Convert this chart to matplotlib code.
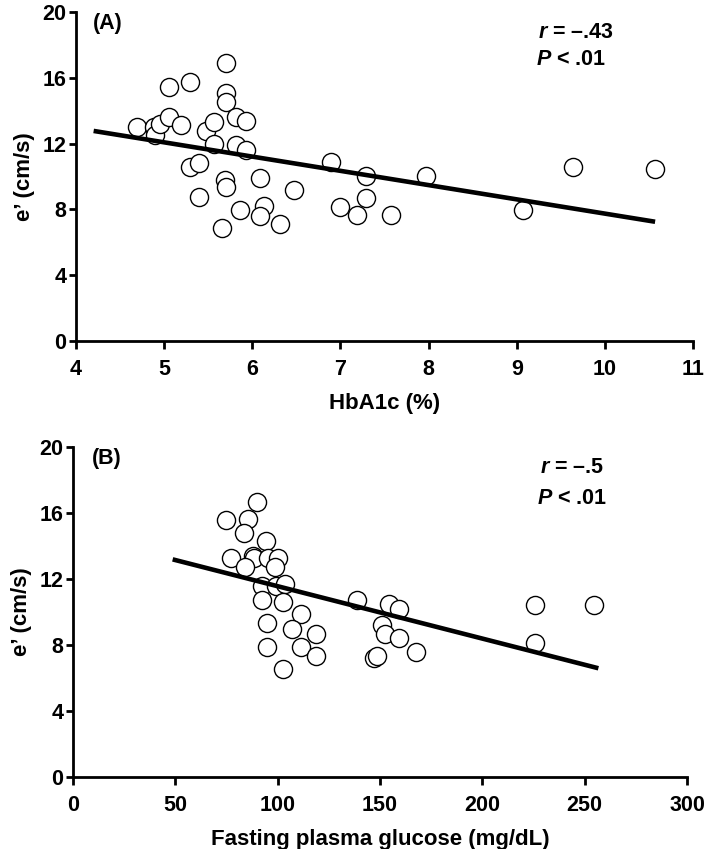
import matplotlib
matplotlib.use("Agg")
import matplotlib.pyplot as plt

plt.rcParams['font.family'] = ['Liberation Sans', 'DejaVu Sans']
plt.rcParams['font.weight'] = 'bold'
plt.rcParams['mathtext.fontset'] = 'custom'
plt.rcParams['mathtext.it'] = 'Liberation Sans:italic:bold'
plt.rcParams['mathtext.rm'] = 'Liberation Sans:bold'

# Panel A: HbA1c (%) vs e' (cm/s)
hba1c = [4.69, 4.89, 4.90, 4.95, 5.05, 5.05, 5.19, 5.29, 5.29, 5.39,
         5.39, 5.48, 5.57, 5.57, 5.70, 5.70, 5.70, 5.69, 5.70, 5.66,
         5.81, 5.93, 5.81, 5.93, 5.86, 6.09, 6.13, 6.09, 6.32, 6.47,
         6.89, 7.29, 6.99, 7.29, 7.19, 7.57, 7.97, 9.07, 9.64, 10.57]
e_a = [13.03, 13.03, 12.52, 13.19, 15.42, 13.60, 13.13, 15.76, 10.60, 10.84,
       8.74, 12.79, 13.33, 11.98, 16.88, 15.10, 14.55, 9.79, 9.34, 6.85,
       13.60, 13.39, 11.91, 11.61, 7.96, 9.89, 8.21, 7.60, 7.11, 9.18,
       10.90, 10.03, 8.16, 8.67, 7.66, 7.66, 10.05, 7.96, 10.60, 10.44]
fit_a_x = [4.2, 10.57]
fit_a_y = [12.77, 7.25]

# Panel B: Fasting plasma glucose (mg/dL) vs e' (cm/s)
fpg = [89.8, 74.8, 85.4, 83.7, 94.2, 77.1, 88.1, 88.4, 95.4, 100.3,
       84.0, 98.7, 92.2, 99.2, 103.6, 92.2, 102.8, 94.9, 111.2, 107.0,
       118.7, 94.9, 111.2, 118.7, 102.8,
       225.7, 225.7, 138.6, 154.6, 159.3, 150.8, 152.4, 159.3, 167.6, 147.1,
       148.4, 254.6]
e_b = [16.68, 15.58, 15.62, 14.80, 14.30, 13.25, 13.40, 13.25, 13.25, 13.30,
       12.70, 12.70, 11.58, 11.58, 11.70, 10.73, 10.62, 9.35, 9.88, 8.97,
       8.67, 7.86, 7.86, 7.35, 6.53,
       10.42, 8.14, 10.73, 10.46, 10.18, 9.21, 8.65, 8.40, 7.60, 7.23,
       7.35, 10.42]
fit_b_x = [48.7, 256.7]
fit_b_y = [13.19, 6.59]

yticks = [0, 4, 8, 12, 16, 20]
xticks_a = [4, 5, 6, 7, 8, 9, 10, 11]
xticks_b = [0, 50, 100, 150, 200, 250, 300]

FS = 15.5

fig = plt.figure(figsize=(7.09, 8.49), dpi=100)
axA = fig.add_axes([76/709, 1-341/849, (693-76)/709, (341-12)/849])
axB = fig.add_axes([73/709, 1-777/849, (687-73)/709, (777-447)/849])


def style(ax, xlim, xticks, xlabel):
    ax.set_xlim(*xlim)
    ax.set_ylim(0, 20)
    ax.set_xticks(xticks)
    ax.set_yticks(yticks)
    for s in ['top', 'right']:
        ax.spines[s].set_visible(False)
    for s in ['left', 'bottom']:
        ax.spines[s].set_linewidth(2.0)
    ax.tick_params(axis='x', direction='out', length=6, width=2.0, labelsize=FS, pad=7)
    ax.tick_params(axis='y', direction='out', length=5, width=2.0, labelsize=FS, pad=2)
    for lab in ax.get_xticklabels() + ax.get_yticklabels():
        lab.set_fontweight('bold')
    ax.set_xlabel(xlabel, fontsize=FS+0.5, fontweight='bold', labelpad=9)
    ax.set_ylabel("e\u2019 (cm/s)", fontsize=FS+0.5, fontweight='bold', labelpad=5)


mk = dict(marker='o', s=170, facecolor='white', edgecolor='black', linewidths=1.0, zorder=3, clip_on=False)

axA.scatter(hba1c, e_a, **mk)
axA.plot(fit_a_x, fit_a_y, color='black', lw=3.3, zorder=4, solid_capstyle='butt')
style(axA, (4, 11), xticks_a, "HbA1c (%)")
axA.text(4.19, 19.33, "(A)", fontsize=FS, fontweight='bold', va='center', ha='left')
axA.text(9.24, 18.78, "$r$ = \u2013.43", fontsize=FS, fontweight='bold', va='center', ha='left')
axA.text(9.22, 17.14, "$P$ < .01", fontsize=FS, fontweight='bold', va='center', ha='left')

axB.scatter(fpg, e_b, **mk)
axB.plot(fit_b_x, fit_b_y, color='black', lw=3.3, zorder=4, solid_capstyle='butt')
style(axB, (0, 300), xticks_b, "Fasting plasma glucose (mg/dL)")
axB.text(9.1, 19.33, "(B)", fontsize=FS, fontweight='bold', va='center', ha='left')
axB.text(228.0, 18.73, "$r$ = \u2013.5", fontsize=FS, fontweight='bold', va='center', ha='left')
axB.text(226.5, 16.9, "$P$ < .01", fontsize=FS, fontweight='bold', va='center', ha='left')

fig.savefig("out.png", dpi=100)
